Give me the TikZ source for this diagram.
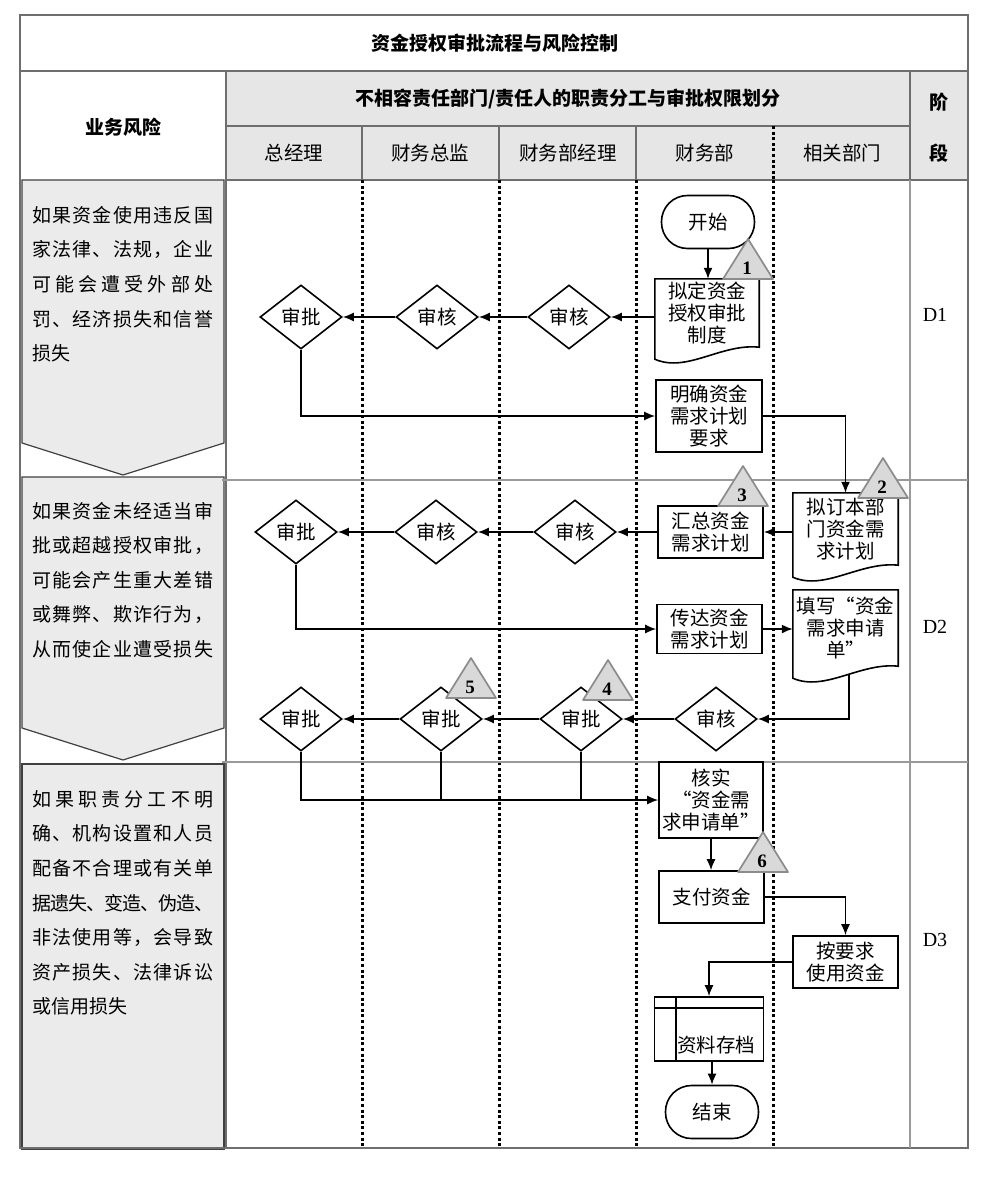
\documentclass[tikz,border=0pt]{standalone}
\usepackage{fontspec}
\setmainfont{Noto Sans CJK SC}
\newfontfamily\latin{Liberation Serif}
\usetikzlibrary{shapes.geometric}
\usetikzlibrary{arrows.meta}
\usetikzlibrary{calc}

\definecolor{hdgray}{HTML}{E6E6E6}
\definecolor{riskgray}{HTML}{EBEBEB}
\definecolor{trigray}{HTML}{D9D9D9}
\definecolor{triline}{HTML}{8C8C8C}
\definecolor{gridline}{HTML}{6E6E6E}

\tikzset{
  txt/.style={font=\fontsize{19.5}{22}\selectfont, inner sep=0pt, align=center},
  box/.style={txt, draw, line width=1.6pt, rectangle},
  docu/.style={txt},
  term/.style={box, rounded corners=26, minimum width=93, minimum height=53},
  chk/.style={txt, draw, line width=1.6pt, diamond, minimum width=82, minimum height=64},
  flow/.style={line width=1.6pt, -{Latex[length=11pt,width=9pt]}},
  link/.style={line width=1.6pt},
  lane/.style={line width=3pt, dash pattern=on 3pt off 2.6pt},
  grid/.style={gridline, line width=1.6pt},
  phase/.style={gridline!70, line width=1.3pt},
  head/.style={font=\bfseries\fontsize{19}{22}\selectfont, inner sep=0pt},
  risk/.style={font=\fontsize{19}{22}\selectfont, inner sep=0pt, anchor=west},
  riskbox/.style={fill=riskgray, draw=black!75, line width=1.2pt},
  tri/.style={fill=trigray, draw=triline, line width=1.7pt, line join=round},
  trinum/.style={font=\latin\bfseries\fontsize{19}{22}\selectfont, inner sep=0pt},
  stage/.style={font=\latin\fontsize{20}{22}\selectfont, inner sep=0pt},
}

% one justified line of the risk column
\newcommand\jline[1]{\hbox to 181pt{\jlchar#1\jlend}}
\def\jlend{}
\def\jlchar#1{#1\futurelet\jlnext\jlcheck}
\def\jlcheck{\ifx\jlnext\jlend\expandafter\jlstop\else\hskip 0pt plus 1fill minus 2pt\relax\expandafter\jlchar\fi}
\def\jlstop\jlend{}

\begin{document}
\begin{tikzpicture}[x=1pt,y=-1pt]
	\useasboundingbox (0,0) rectangle (990,1182);

	%% Table head
	\fill[hdgray] (226,71) rectangle (910,180);
	\fill[hdgray] (910,71) rectangle (968,180);

	%% Risk column
	\path[riskbox] (22,180) -- (224,180) -- (224,443) -- (123,475) -- (22,443) -- cycle;
	\path[riskbox] (22,477) -- (224,477) -- (224,728) -- (123,760) -- (22,728) -- cycle;
	\path[riskbox, line width=1.8pt] (22,764) rectangle (224,1149);

	%% Grid lines
	\draw[grid] (20,15) rectangle (968,1148);
	\draw[grid] (20,71) -- (968,71);
	\draw[grid] (226,126) -- (910,126);
	\draw[grid] (226,180) -- (968,180);
	\draw[grid] (226,71) -- (226,1148);
	\draw[grid] (910,71) -- (910,180);
	\draw[phase] (910,180) -- (910,1148);
	\foreach \x in {362,499,636}
	  \draw[grid] (\x,126) -- (\x,180);
	\draw[lane] (773,126) -- (773,180);
	\foreach \x in {362,499,636,773}
	  \draw[lane] (\x,180) -- (\x,1148);
	\draw[phase] (222,480) -- (968,480);
	\draw[phase] (222,762) -- (968,762);

	%% Head texts
	\node[head] (title) at (495,43) {资金授权审批流程与风险控制};
	\node[head] (risk) at (123,127) {业务风险};
	\node[head] (duty) at (568,99) {不相容责任部门/责任人的职责分工与审批权限划分};
	\node[head] (stg1) at (939,102) {阶};
	\node[head] (stg2) at (939,153) {段};
	\foreach \name/\x/\t in {zjl/294/总经理, cwzj/430/财务总监, jl/568/财务部经理,
	    cwb/705/财务部, xgbm/842/相关部门}
	  \node[txt] (\name) at (\x,153) {\t};

	%% Risk texts
	\foreach \t [count=\i from 0] in {\jline{如果资金使用违反国}, \jline{家法律、法规，企业},
	    \jline{可能会遭受外部处}, \jline{罚、经济损失和信誉}, 损失}
	  \node[risk] (ra\i) at (32,215+34.6*\i) {\t};
	\foreach \t [count=\i from 0] in {\jline{如果资金未经适当审}, \jline{批或超越授权审批，},
	    \jline{可能会产生重大差错}, \jline{或舞弊、欺诈行为，}, \jline{从而使企业遭受损失}}
	  \node[risk] (rb\i) at (32,511+34.6*\i) {\t};
	\foreach \t [count=\i from 0] in {\jline{如果职责分工不明}, \jline{确、机构设置和人员},
	    \jline{配备不合理或有关单}, \jline{据遗失、变造、伪造、}, \jline{非法使用等，会导致},
	    \jline{资产损失、法律诉讼}, 或信用损失}
	  \node[risk] (rc\i) at (32,799+34.6*\i) {\t};

	%% Stages
	\node[stage] (d1) at (935,315) {D1};
	\node[stage] (d2) at (935,627) {D2};
	\node[stage] (d3) at (935,940) {D3};

	%% D1
	\node[term] (start) at (708,222) {开始};
	\node[docu, minimum width=104, minimum height=68] (zd) at (707,313) {拟定资金\\授权审批\\制度};
	\node[chk] (h1) at (569,317) {审核};
	\node[chk] (h2) at (437,317) {审核};
	\node[chk] (p1) at (301,317) {审批};
	\node[box, minimum width=106, minimum height=72] (mq) at (709,416) {明确资金\\需求计划\\要求};

	%% D2
	\node[docu, minimum width=105, minimum height=72] (nd) at (845.5,529) {拟订本部\\门资金需\\求计划};
	\node[box, minimum width=105, minimum height=52] (hz) at (710.5,532) {汇总资金\\需求计划};
	\node[chk] (h3) at (575,532) {审核};
	\node[chk] (h4) at (436,532) {审核};
	\node[chk] (p2) at (296,532) {审批};
	\node[box, minimum width=105, minimum height=49] (cd) at (709.5,629) {传达资金\\需求计划};
	\node[docu, minimum width=105, minimum height=76] (tx) at (845.5,628) {填写“资金\\需求申请\\单”};
	\node[chk] (h5) at (716,719) {审核};
	\node[chk] (p3) at (581,719) {审批};
	\node[chk] (p4) at (441,719) {审批};
	\node[chk] (p5) at (301,719) {审批};

	%% D3
	\node[box, minimum width=104, minimum height=76] (hs) at (711,800) {核实\\“资金需\\求申请单”};
	\node[box, minimum width=105, minimum height=52] (zf) at (711.5,897) {支付资金};
	\node[box, minimum width=105, minimum height=52] (ay) at (845.5,962) {按要求\\使用资金};
	\node[box, minimum width=109, minimum height=64] (ds) at (709,1029) {};
	\node[txt] (dst) at (716,1045) {资料存档};
	\node[term] (en) at (712,1112) {结束};

	%% Document outlines
	\foreach \d in {zd,nd,tx}
	  \draw[link] (\d.south east) -- (\d.north east) -- (\d.north west)
	    -- ($(\d.south west)+(0,12)$)
	    .. controls ($(\d.south west)+(32,26)$) and ($(\d.south east)+(-38,-4)$) .. (\d.south east)
	    -- cycle;

	% storage lines
	\draw[link] ($(ds.north west)+(0,12)$) -- ($(ds.north east)+(0,12)$);
	\draw[link] ($(ds.north west)+(22,0)$) -- ($(ds.south west)+(22,0)$);

	%% Connectors
	\draw[flow] (start.south) -- (start.south |- zd.north);
	\draw[flow] (h1.east -| zd.west) -- (h1.east);
	\draw[flow] (h1) -- (h2);
	\draw[flow] (h2) -- (p1);
	\draw[flow] (p1.south) |- (mq.west);
	\draw[flow] (mq.east) -| (nd.north);

	\draw[flow] (hz.east -| nd.west) -- (hz.east);
	\draw[flow] (hz) -- (h3);
	\draw[flow] (h3) -- (h4);
	\draw[flow] (h4) -- (p2);
	\draw[flow] (p2.south) |- (cd.west);
	\draw[flow] (cd.east) -- (cd.east -| tx.west);
	\coordinate (txb) at ($(tx.south)+(3.5,9)$);
	\draw[flow] (txb) |- (h5.east);
	\draw[flow] (h5) -- (p3);
	\draw[flow] (p3) -- (p4);
	\draw[flow] (p4) -- (p5);

	\draw[flow] (p5.south) |- (hs.west);
	\draw[link] (p4.south) -- (p4.south |- hs.west);
	\draw[link] (p3.south) -- (p3.south |- hs.west);
	\draw[flow] (hs.south) -- (hs.south |- zf.north);
	\draw[flow] (zf.east) -| (ay.north);
	\draw[flow] (ay.west) -| (ds.north);
	\draw[flow] (ds.south -| en.north) -- (en.north);

	%% Risk points
	\foreach \n/\x/\y in {1/748/239, 2/883/458, 3/743/466, 4/608/660, 5/471/658, 6/763/832}
	{
	  \path[tri] (\x,\y) -- ++(25,40) -- ++(-50,0) -- cycle;
	  \node[trinum] (n\n) at (\x-1,\y+29) {\n};
	}
\end{tikzpicture}
\end{document}
